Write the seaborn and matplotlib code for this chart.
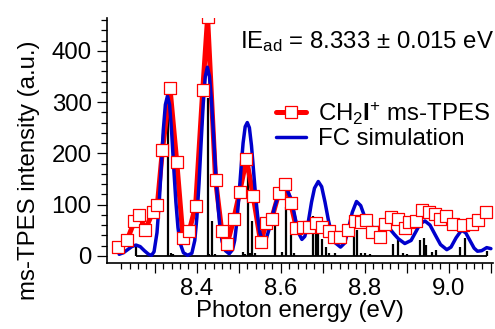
import matplotlib
matplotlib.use("Agg")
import matplotlib.pyplot as plt
import seaborn as sns
import pandas as pd
import numpy as np
from matplotlib.lines import Line2D
from matplotlib.ticker import FixedLocator

# ---------------- data ----------------
exp_energy = [8.213, 8.234, 8.251, 8.263, 8.277, 8.295, 8.306, 8.318, 8.336, 8.352,
              8.367, 8.382, 8.397, 8.414, 8.4255, 8.4445, 8.459, 8.472, 8.488, 8.502,
              8.518, 8.534, 8.552, 8.565, 8.578, 8.595, 8.610, 8.623, 8.637, 8.653,
              8.668, 8.683, 8.699, 8.714, 8.727, 8.740, 8.760, 8.776, 8.790, 8.803,
              8.818, 8.835, 8.849, 8.862, 8.878, 8.896, 8.906, 8.922, 8.936, 8.952,
              8.966, 8.980, 8.993, 9.009, 9.033, 9.054, 9.070, 9.088]
exp_intensity = [18, 31, 67, 80, 50, 86, 100, 207, 327, 184,
                 34, 49, 98, 324, 465, 148, 49, 23, 72, 125,
                 189, 117, 26, 64, 72, 122, 140, 104, 54, 57,
                 56, 65, 57, 48, 36, 37, 50, 68, 66, 70,
                 47, 37, 62, 76, 72, 55, 66, 68, 90, 86,
                 81, 71, 77, 62, 60, 62, 70, 86]

fc_energy = [8.215, 8.225, 8.235, 8.245, 8.255, 8.265, 8.275, 8.285, 8.292, 8.298,
             8.305, 8.310, 8.315, 8.320, 8.325, 8.330, 8.335, 8.340, 8.345, 8.350,
             8.355, 8.360, 8.368, 8.378, 8.388, 8.395, 8.400, 8.405, 8.410, 8.415,
             8.420, 8.425, 8.430, 8.435, 8.440, 8.445, 8.450, 8.455, 8.460, 8.468,
             8.477, 8.485, 8.490, 8.495, 8.500, 8.505, 8.510, 8.515, 8.520, 8.525,
             8.530, 8.535, 8.540, 8.545, 8.550, 8.557, 8.565, 8.575, 8.585, 8.595,
             8.605, 8.615, 8.625, 8.635, 8.642, 8.650, 8.657, 8.665, 8.673, 8.680,
             8.689, 8.697, 8.705, 8.713, 8.720, 8.730, 8.742, 8.752, 8.760, 8.770,
             8.780, 8.790, 8.800, 8.810, 8.820, 8.830, 8.840, 8.850, 8.860, 8.870,
             8.880, 8.895, 8.910, 8.920, 8.932, 8.943, 8.955, 8.968, 8.980, 8.995,
             9.005, 9.017, 9.030, 9.040, 9.050, 9.060, 9.068, 9.078, 9.090, 9.100]
fc_intensity = [3, 6, 12, 18, 21, 18, 10, 3, 1, 8,
                45, 100, 170, 245, 295, 312, 295, 240, 170, 105,
                55, 25, 6, 1, 5, 30, 75, 140, 220, 295,
                350, 368, 350, 300, 230, 160, 100, 55, 28, 10,
                4, 12, 30, 65, 115, 170, 220, 252, 260, 250,
                215, 165, 115, 75, 45, 28, 33, 60, 95, 120,
                130, 128, 110, 70, 45, 32, 38, 65, 105, 132,
                145, 135, 105, 70, 45, 25, 17, 25, 50, 85,
                106, 98, 75, 60, 55, 55, 56, 57, 52, 42,
                33, 24, 30, 45, 63, 68, 60, 40, 22, 12,
                17, 35, 50, 45, 30, 15, 9, 10, 16, 14]

stick_energy = [8.256, 8.332, 8.338, 8.343, 8.4255, 8.429, 8.437, 8.443, 8.509, 8.515,
                8.521, 8.527, 8.532, 8.538, 8.586, 8.602, 8.613, 8.625, 8.631, 8.677,
                8.683, 8.689, 8.699, 8.708, 8.715, 8.728, 8.774, 8.782, 8.790, 8.800,
                8.812, 8.866, 8.878, 8.890, 8.900, 8.932, 8.940, 8.945, 8.960, 8.970,
                9.026, 9.038, 9.091]
stick_intensity = [20, 300, 6, 4, 308, 4, 67, 4, 8, 4,
                   187, 5, 67, 5, 78, 7, 95, 40, 5, 78,
                   50, 66, 32, 18, 6, 5, 51, 50, 6, 5,
                   4, 23, 31, 5, 4, 31, 35, 22, 7, 12,
                   18, 34, 10]

x_major = [8.3, 8.4, 8.5, 8.6, 8.7, 8.8, 8.9, 9.0, 9.1]
x_labels = ["", "8.4", "", "8.6", "", "8.8", "", "9.0", ""]
y_major = [0, 100, 200, 300, 400]

legend_labels = [r"CH$_2$$\mathbf{I}^{+}$ ms-TPES", "FC simulation"]
ie_text = r"IE$_{\mathrm{ad}}$ = 8.333 ± 0.015 eV"
x_title = "Photon energy (eV)"
y_title = "ms-TPES intensity (a.u.)"

# ---------------- style ----------------
sns.set_theme(style="ticks")
plt.rcParams["font.family"] = ["Liberation Sans", "DejaVu Sans"]
plt.rcParams["mathtext.fontset"] = "custom"
plt.rcParams["mathtext.rm"] = "Liberation Sans"
plt.rcParams["mathtext.it"] = "Liberation Sans:italic"
plt.rcParams["mathtext.bf"] = "Liberation Sans:bold"
plt.rcParams["text.color"] = "black"
plt.rcParams["axes.labelcolor"] = "black"
FS = 17.3

RED = "#ff0000"
BLUE = "#0000cc"

exp_df = pd.DataFrame({"energy": exp_energy, "intensity": exp_intensity})
fc_df = pd.DataFrame({"energy": fc_energy, "intensity": fc_intensity})

fig = plt.figure(figsize=(4.95, 3.29), dpi=100)
ax = fig.add_axes([107 / 495, 1 - 263 / 329, 386 / 495, 245 / 329])

# stick spectrum
ax.hlines(0, stick_energy[0], stick_energy[-1], color="black", lw=1.3, zorder=1)
ax.vlines(stick_energy, 0, stick_intensity, color="black", lw=1.6, zorder=1)

sns.lineplot(data=exp_df, x="energy", y="intensity", ax=ax, color=RED, lw=3.6,
             sort=False, zorder=2, legend=False)
sns.lineplot(data=fc_df, x="energy", y="intensity", ax=ax, color=BLUE, lw=2.5,
             sort=False, zorder=3, legend=False)
sns.scatterplot(data=exp_df, x="energy", y="intensity", ax=ax, marker="s", s=72,
                facecolor="white", edgecolor=RED, linewidth=0.9, zorder=4, legend=False)

ax.set_xlim(8.186, 9.105)
ax.set_ylim(-14, 464)

for side in ["top", "right"]:
    ax.spines[side].set_visible(False)
for side in ["left", "bottom"]:
    ax.spines[side].set_linewidth(1.2)
    ax.spines[side].set_color("black")

ax.xaxis.set_major_locator(FixedLocator(x_major))
ax.set_xticklabels(x_labels)
ax.xaxis.set_minor_locator(FixedLocator([round(8.22 + 0.02 * i, 2) for i in range(45)]))
ax.yaxis.set_major_locator(FixedLocator(y_major))
ax.yaxis.set_minor_locator(FixedLocator(list(range(20, 461, 20))))

ax.tick_params(axis="both", which="major", direction="out", length=7.5, width=0.9,
               color="black", labelsize=FS, labelcolor="black")
ax.tick_params(axis="both", which="minor", direction="out", length=4, width=0.9,
               color="black")
ax.tick_params(axis="x", which="major", pad=3.5)
ax.tick_params(axis="y", which="major", pad=3.5)

ax.set_xlabel(x_title, fontsize=FS, color="black", labelpad=0)
ax.set_ylabel(y_title, fontsize=FS, color="black")
ax.yaxis.set_label_coords(-0.174, 0.38)

fig.text(240 / 495, 1 - 48 / 329, ie_text, fontsize=FS, color="black",
         ha="left", va="baseline")

handles = [Line2D([], [], color=RED, lw=3.6, marker="s", markersize=8,
                  markerfacecolor="white", markeredgecolor=RED, markeredgewidth=0.9),
           Line2D([], [], color=BLUE, lw=2.5)]
leg = ax.legend(handles, legend_labels, loc="upper left",
                bbox_to_anchor=(276 / 495, 1 - 100 / 329), bbox_transform=fig.transFigure,
                frameon=False, fontsize=FS, borderpad=0, borderaxespad=0,
                handlelength=1.25, handletextpad=0.5, labelspacing=0.05)

fig.savefig("out.png", dpi=100)
